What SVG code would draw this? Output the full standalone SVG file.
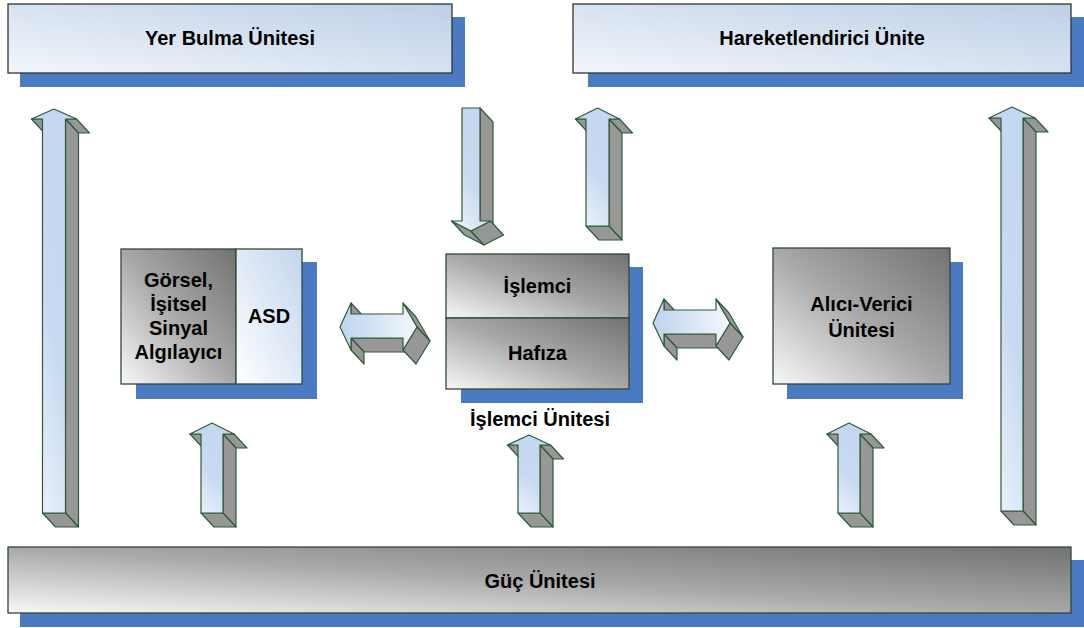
<svg xmlns="http://www.w3.org/2000/svg" width="1084" height="628" viewBox="0 0 1084 628">
<defs>
<linearGradient id="gBlue" x1="0" y1="1" x2="1" y2="0"><stop offset="0" stop-color="#f2f6fb"/><stop offset="1" stop-color="#bdcfe7"/></linearGradient>
<linearGradient id="gGray" x1="0" y1="1" x2="1" y2="0"><stop offset="0" stop-color="#f8f8f8"/><stop offset="0.5" stop-color="#a8a8a8"/><stop offset="1" stop-color="#727272"/></linearGradient>
<linearGradient id="gAsd" x1="0" y1="1" x2="1" y2="0"><stop offset="0" stop-color="#ffffff"/><stop offset="1" stop-color="#c2d5ee"/></linearGradient>
<linearGradient id="gArrow" x1="0.1" y1="1" x2="0.6" y2="0"><stop offset="0" stop-color="#eef4fb"/><stop offset="0.5" stop-color="#c8daf1"/><stop offset="1" stop-color="#c3d7f0"/></linearGradient>
<linearGradient id="gDArrow" x1="0" y1="0.5" x2="1" y2="0.5"><stop offset="0" stop-color="#bed4ef"/><stop offset="1" stop-color="#f3f7fc"/></linearGradient>
<style>
.shadow{fill:#4a7ac2}
.bbox{fill:url(#gBlue);stroke:#333;stroke-width:1.3}
.gbox{fill:url(#gGray);stroke:#2f4a36;stroke-width:1.3}
.abox{fill:url(#gAsd);stroke:#2f4a36;stroke-width:1.3}
.side{fill:#979797;stroke:#2f5a3b;stroke-width:1.2;stroke-linejoin:round}
.front{fill:url(#gArrow);stroke:#2f5a3b;stroke-width:1.2;stroke-linejoin:round}
.dfront{fill:url(#gDArrow);stroke:#2f5a3b;stroke-width:1.2;stroke-linejoin:round}
text{font-family:"Liberation Sans",Arial,sans-serif;font-weight:bold;font-size:20px;fill:#000;text-anchor:middle}
</style>
</defs>
<rect width="1084" height="628" fill="#fff"/>

<g id="yer-bulma">
<rect class="shadow" x="20" y="17" width="445" height="70"/>
<rect class="bbox" x="8" y="4" width="444" height="69"/>
<text x="230" y="45">Yer Bulma Ünitesi</text>
</g>

<g id="hareketlendirici">
<rect class="shadow" x="588" y="17" width="496" height="70"/>
<rect class="bbox" x="573" y="4" width="498" height="69"/>
<text x="822" y="45">Hareketlendirici Ünite</text>
</g>

<g id="gorsel-asd">
<rect class="shadow" x="136" y="262" width="181" height="137"/>
<rect class="gbox" x="121" y="249" width="115" height="135"/>
<rect class="abox" x="236" y="249" width="66" height="135"/>
<text x="178.5" y="287">Görsel,</text>
<text x="178.5" y="311">İşitsel</text>
<text x="178.5" y="335">Sinyal</text>
<text x="178.5" y="359">Algılayıcı</text>
<text x="269" y="323">ASD</text>
</g>

<g id="islemci-unitesi">
<rect class="shadow" x="461" y="267" width="182" height="136"/>
<rect class="gbox" x="446" y="254" width="183" height="64"/>
<rect class="gbox" x="446" y="318" width="183" height="71"/>
<text x="537.5" y="293">İşlemci</text>
<text x="537.5" y="360">Hafıza</text>
<text x="540" y="426">İşlemci Ünitesi</text>
</g>

<g id="alici-verici">
<rect class="shadow" x="787" y="262" width="176" height="137"/>
<rect class="gbox" x="773" y="248" width="177" height="136"/>
<text x="861.5" y="311">Alıcı-Verici</text>
<text x="861.5" y="337">Ünitesi</text>
</g>

<g id="guc">
<rect class="shadow" x="20" y="560" width="1064" height="67"/>
<rect class="gbox" x="8" y="547" width="1063" height="66"/>
<text x="540" y="588">Güç Ünitesi</text>
</g>

<g id="connectors">
<g id="arrow-guc-yer">
<polygon class="side" points="31.5,119 42.5,119 55.5,133 44.5,133"/>
<polygon class="side" points="65.5,119 76.5,119 89.5,133 78.5,133"/>
<polygon class="side" points="65.5,119 78.5,133 78.5,527 65.5,513"/>
<polygon class="side" points="42.5,513 65.5,513 78.5,527 55.5,527"/>
<polygon class="front" points="54,109 76.5,119 65.5,119 65.5,513 42.5,513 42.5,119 31.5,119"/>
</g>
<g id="arrow-guc-hareket">
<polygon class="side" points="989,118 1001,118 1014,132 1002,132"/>
<polygon class="side" points="1023,118 1035,118 1048,132 1036,132"/>
<polygon class="side" points="1023,118 1036,132 1036,525 1023,511"/>
<polygon class="side" points="1001,511 1023,511 1036,525 1014,525"/>
<polygon class="front" points="1012,107 1035,118 1023,118 1023,511 1001,511 1001,118 989,118"/>
</g>
<g id="arrow-guc-gorsel">
<polygon class="side" points="190,434 201,434 214,448 203,448"/>
<polygon class="side" points="223,434 234,434 247,448 236,448"/>
<polygon class="side" points="223,434 236,448 236,527 223,513"/>
<polygon class="side" points="201,513 223,513 236,527 214,527"/>
<polygon class="front" points="212,423 234,434 223,434 223,513 201,513 201,434 190,434"/>
</g>
<g id="arrow-guc-islemci">
<polygon class="side" points="507.5,445 518,445 531,459 520.5,459"/>
<polygon class="side" points="540,445 550.5,445 563.5,459 553,459"/>
<polygon class="side" points="540,445 553,459 553,527 540,513"/>
<polygon class="side" points="518,513 540,513 553,527 531,527"/>
<polygon class="front" points="529,435 550.5,445 540,445 540,513 518,513 518,445 507.5,445"/>
</g>
<g id="arrow-guc-alici">
<polygon class="side" points="827,434 838,434 851,448 840,448"/>
<polygon class="side" points="860,434 871,434 884,448 873,448"/>
<polygon class="side" points="860,434 873,448 873,527 860,513"/>
<polygon class="side" points="838,513 860,513 873,527 851,527"/>
<polygon class="front" points="849,423 871,434 860,434 860,513 838,513 838,434 827,434"/>
</g>
<g id="arrow-islemci-hareket">
<polygon class="side" points="575.5,119 586,119 599,133 588.5,133"/>
<polygon class="side" points="609,119 619.5,119 632.5,133 622,133"/>
<polygon class="side" points="609,119 622,133 622,240 609,226"/>
<polygon class="side" points="586,226 609,226 622,240 599,240"/>
<polygon class="front" points="597.5,108 619.5,119 609,119 609,226 586,226 586,119 575.5,119"/>
</g>
<g id="arrow-yer-islemci">
<polygon class="side" points="480,108 493,122 493,235 480,221"/>
<polygon class="side" points="451.5,221 471,231 484,245 464.5,235"/>
<polygon class="side" points="471,231 490.5,221 503.5,235 484,245"/>
<polygon class="front" points="462,108 480,108 480,221 490.5,221 471,231 451.5,221 462,221"/>
</g>
<g id="arrow-gorsel-islemci">
<polygon class="side" points="351,303 351,314 364,328 364,317"/>
<polygon class="side" points="351,338 403,338 416,352 364,352"/>
<polygon class="side" points="351,338 351,350 364,364 364,352"/>
<polygon class="side" points="403,303 417,327 430,341 416,317"/>
<polygon class="side" points="417,327 403,350 416,364 430,341"/>
<polygon class="dfront" points="340,327 351,303 351,314 403,314 403,303 417,327 403,350 403,338 351,338 351,350"/>
</g>
<g id="arrow-islemci-alici" transform="translate(313,-4)">
<polygon class="side" points="351,303 351,314 364,328 364,317"/>
<polygon class="side" points="351,338 403,338 416,352 364,352"/>
<polygon class="side" points="351,338 351,350 364,364 364,352"/>
<polygon class="side" points="403,303 417,327 430,341 416,317"/>
<polygon class="side" points="417,327 403,350 416,364 430,341"/>
<polygon class="dfront" points="340,327 351,303 351,314 403,314 403,303 417,327 403,350 403,338 351,338 351,350"/>
</g>
</g>
</svg>
